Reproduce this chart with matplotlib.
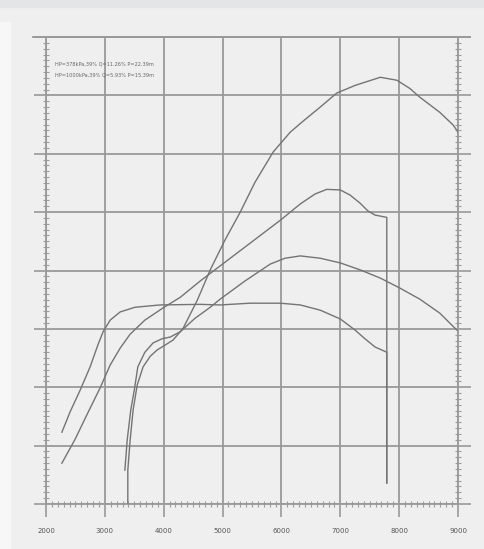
import matplotlib
matplotlib.use("Agg")
import matplotlib.pyplot as plt
from matplotlib.ticker import MultipleLocator, NullFormatter
from matplotlib.patches import Rectangle

# частота вращения (об/мин) и значения кривых в условных единицах сетки (0..80)
rpm_a = [2270, 2410, 2580, 2750, 2880, 2970, 3090, 3260, 3510, 3940, 4620, 4960,
         5470, 5980, 6320, 6660, 7000, 7250, 7420, 7590, 7790, 7790]
val_a = [12.3, 15.8, 19.5, 23.5, 27.2, 29.5, 31.5, 32.9, 33.7, 34.1, 34.2, 34.1,
         34.4, 34.4, 34.1, 33.2, 31.7, 29.8, 28.3, 26.9, 26.0, 3.6]

rpm_d = [2270, 2490, 2710, 2920, 3090, 3260, 3430, 3680, 3990, 4280, 4620, 4960,
         5470, 5980, 6320, 6570, 6770, 7000, 7170, 7340, 7470, 7590, 7790, 7790]
val_d = [7.0, 11.0, 15.6, 19.9, 23.8, 26.7, 29.1, 31.5, 33.6, 35.4, 38.2, 40.8,
         44.7, 48.6, 51.4, 53.1, 53.9, 53.8, 52.9, 51.5, 50.2, 49.5, 49.1, 3.6]

rpm_b = [3340, 3380, 3440, 3500, 3560, 3680, 3820, 3970, 4110, 4280, 4530, 4790,
         4960, 5380, 5810, 6060, 6320, 6660, 7000, 7340, 7680, 8010, 8350, 8690, 8980]
val_b = [5.8, 11.0, 16.1, 19.5, 23.5, 26.0, 27.6, 28.3, 28.6, 29.5, 31.8, 33.7,
         35.1, 38.2, 41.1, 42.1, 42.5, 42.1, 41.3, 40.1, 38.7, 37.0, 35.1, 32.7, 29.8]

rpm_c = [3390, 3390, 3430, 3480, 3550, 3650, 3770, 3890, 4020, 4160, 4330, 4570,
         4790, 5040, 5300, 5550, 5860, 6150, 6370, 6660, 6940, 7250, 7680, 7960,
         8180, 8350, 8690, 8920, 9000]
val_c = [0.2, 5.8, 11.0, 16.1, 20.4, 23.5, 25.3, 26.4, 27.2, 28.1, 30.1, 34.9,
         40.1, 45.2, 50.0, 55.1, 60.3, 63.7, 65.6, 68.0, 70.4, 71.7, 73.1, 72.6,
         71.2, 69.7, 67.1, 64.9, 63.7]

xticks = [2000, 3000, 4000, 5000, 6000, 7000, 8000, 9000]
xlabels = ["2000", "3000", "4000", "5000", "6000", "7000", "8000", "9000"]
legend_lines = ["HP=378kPa,39% Q=11.26% P=22.39m",
                "HP=1000kPa,39% Q=5.93% P=15.39m"]

bg = "#efefef"
grid_c = "#999999"
line_c = "#747474"

fig = plt.figure(figsize=(4.84, 5.49), dpi=100, facecolor=bg)
fig.patches.append(Rectangle((0, 1 - 7 / 549), 1, 7 / 549, transform=fig.transFigure,
                             color="#e3e5e7", zorder=0))
fig.patches.append(Rectangle((0, 0), 10 / 484, 1 - 22 / 549, transform=fig.transFigure,
                             color="#f7f7f7", zorder=0))

ax = fig.add_axes([46 / 484, 1 - 504 / 549, 412 / 484, 467 / 549])
ax.set_facecolor(bg)

for x, y in [(rpm_a, val_a), (rpm_d, val_d), (rpm_b, val_b), (rpm_c, val_c)]:
    ax.plot(x, y, color=line_c, lw=1.0, zorder=3)

ax.set_xlim(2000, 9000)
ax.set_ylim(0, 80)
ax.set_xticks(xticks)
ax.set_xticklabels(xlabels)
ax.yaxis.set_major_locator(MultipleLocator(10))
ax.yaxis.set_major_formatter(NullFormatter())
ax.xaxis.set_minor_locator(MultipleLocator(100))
ax.yaxis.set_minor_locator(MultipleLocator(1))

ax.grid(True, which="major", color=grid_c, lw=1.3)
for s in ax.spines.values():
    s.set_color(grid_c)
    s.set_linewidth(1.3)

ax.tick_params(which="major", direction="out", length=9, width=1.2, color=grid_c,
               labelsize=5, labelcolor="#555555", right=True, pad=8)
ax.tick_params(which="minor", direction="inout", length=5, width=0.8, color="#9d9d9d",
               right=True)

# верхняя линия рамки чуть выходит за оси
ax.axhline(80, xmin=-0.032, xmax=1.03, color=grid_c, lw=1.3, clip_on=False)

ax.text(2150, 75.2, legend_lines[0], fontsize=3.6, color="#666666")
ax.text(2150, 73.2, legend_lines[1], fontsize=3.6, color="#666666")

fig.savefig("out.png", dpi=100, facecolor=bg)
